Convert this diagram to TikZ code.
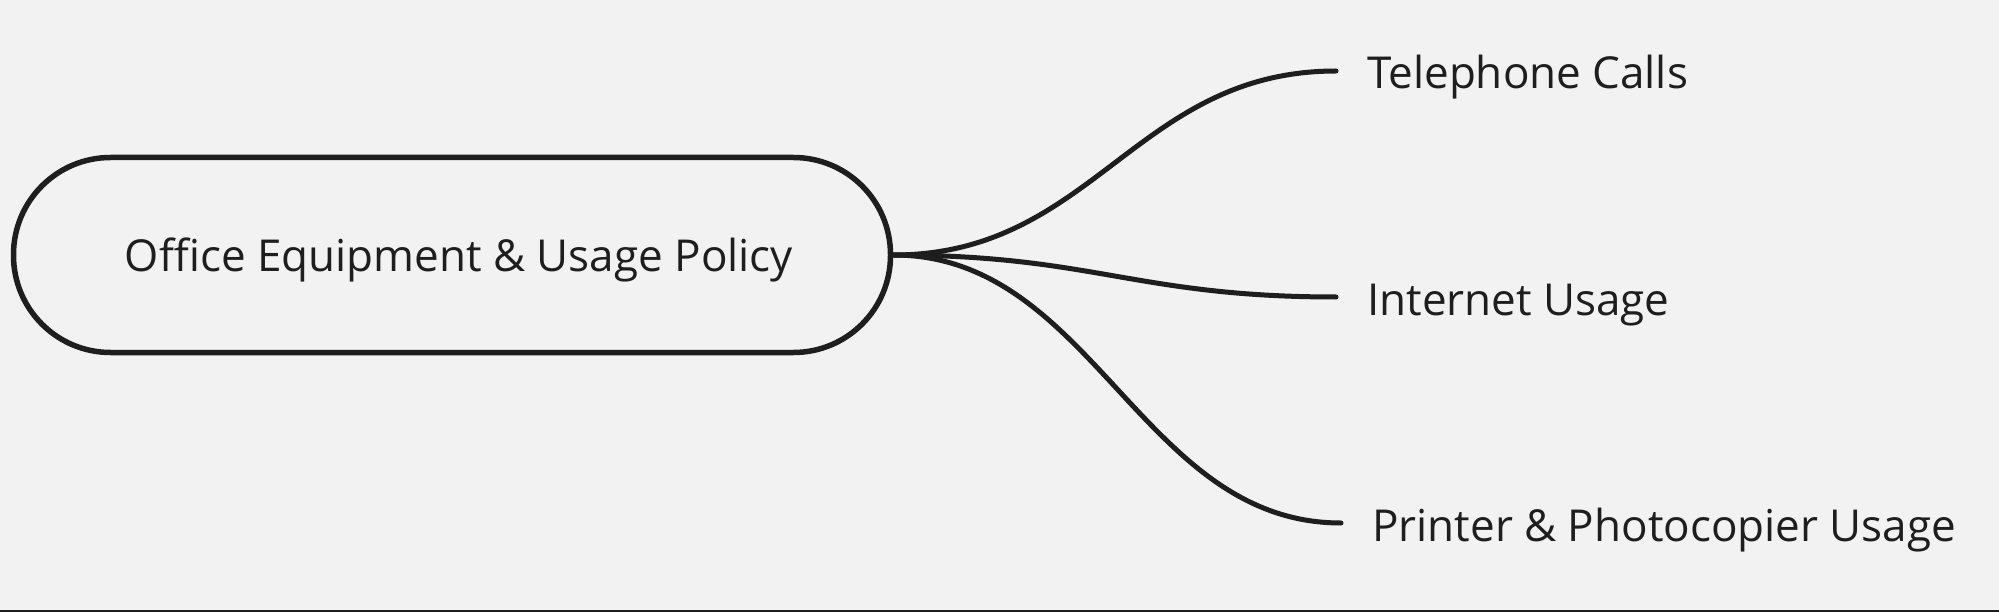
\documentclass[tikz,border=0pt]{standalone}
\usepackage{fontspec}
\setmainfont{Open Sans}
\definecolor{bg}{HTML}{F2F2F2}
\definecolor{ink}{HTML}{1E1E1E}
\begin{document}
\begin{tikzpicture}[x=1pt,y=-1pt,
  mainbox/.style={draw=ink, line width=5.5pt, rectangle, rounded corners=97pt,
    minimum width=877pt, minimum height=195pt, inner sep=0pt},
  label/.style={anchor=base, inner sep=0pt, text=ink, font=\fontsize{44}{52}\selectfont},
  leaf/.style={anchor=base west, inner sep=0pt, text=ink, font=\fontsize{44}{52}\selectfont},
  branch/.style={draw=ink, line width=5pt, line cap=round}]
\fill[bg] (0,0) rectangle (1999,612);
\useasboundingbox (0,0) rectangle (1999,612);
\draw[ink, line width=2pt] (0,611) -- (1999,611);
\node[mainbox] (main) at (452,255) {};
\node[label] (mainlabel) at (459,272) {Office Equipment \& Usage Policy};
\coordinate (e1) at (1336,71);
\coordinate (e2) at (1336,297);
\coordinate (e3) at (1341,523);
\node[leaf] (t1) at (1367,89) {Telephone Calls};
\node[leaf] (t2) at (1367,315) {Internet Usage};
\node[leaf] (t3) at (1372,541) {Printer \& Photocopier Usage};
\draw[branch] (main.east) .. controls +(200,0) and +(-200,0) .. (e1);
\draw[branch] (main.east) .. controls +(200,0) and +(-200,0) .. (e2);
\draw[branch] (main.east) .. controls +(200,0) and +(-200,0) .. (e3);
\end{tikzpicture}
\end{document}
